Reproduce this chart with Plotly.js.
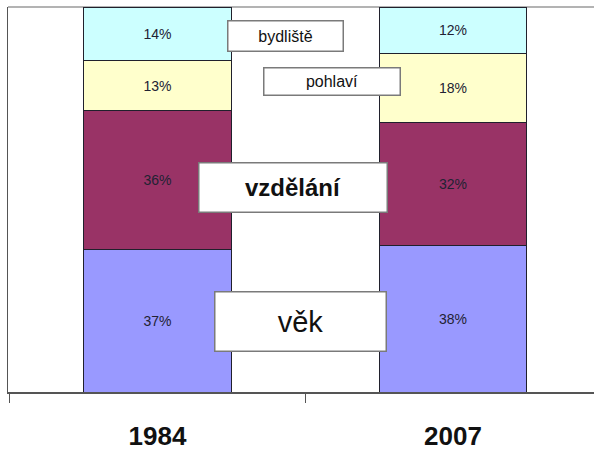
<!DOCTYPE html>
<html>
<head>
<meta charset="utf-8">
<script src="https://cdn.plot.ly/plotly-3.0.1.min.js"></script>
<style>html,body{margin:0;padding:0;background:#fff;}#chart{width:594px;height:452px;}</style>
</head>
<body>
<div id="chart"></div>
<script>
// Data
const years = ["1984", "2007"];
const seriesNames = ["věk", "vzdělání", "pohlaví", "bydliště"];
const vek = [37, 38];
const vzdelani = [36, 32];
const pohlavi = [13, 18];
const bydliste = [14, 12];
const seriesValues = [vek, vzdelani, pohlavi, bydliste];
const seriesColors = ["#9999FF", "#993366", "#FFFFCC", "#CCFFFF"];

const FONT = "Arial, 'Liberation Sans', sans-serif";

const traces = seriesNames.map((name, i) => ({
  type: "bar",
  name: name,
  x: years,
  y: seriesValues[i],
  width: 0.5,
  marker: { color: seriesColors[i], line: { color: "#20202c", width: 1 } },
  text: seriesValues[i].map(v => v + "%"),
  textposition: "inside",
  insidetextanchor: "middle",
  textangle: 0,
  textfont: { family: FONT, size: 14, color: "#222233" },
  hoverinfo: "skip"
}));

// Label boxes (paper coordinates, plot area 8..594 x 7..392)
function px2x(px) { return (px - 8) / 586; }
function py2y(py) { return (392 - py) / 385; }
function box(text, x0, x1, y0, y1, size, weight) {
  return {
    xref: "paper", yref: "paper",
    x: px2x((x0 + x1) / 2), y: py2y((y0 + y1) / 2),
    xanchor: "center", yanchor: "middle",
    text: text, showarrow: false,
    width: x1 - x0 - 2, height: y1 - y0 - 2,
    bgcolor: "#ffffff", bordercolor: "#7a7a7a", borderwidth: 1.5, borderpad: 0,
    font: { family: FONT, size: size, color: "#111111", weight: weight },
    align: "center", valign: "middle"
  };
}

const annotations = [
  box(seriesNames[3], 227, 343, 21, 52, 16, "normal"),
  box(seriesNames[2], 263, 400, 68, 96, 16, "normal"),
  box(seriesNames[1], 198, 387, 162, 212, 24, "bold"),
  box(seriesNames[0], 214, 386, 291, 351, 29, "normal")
];

const layout = {
  width: 594, height: 452,
  margin: { l: 8, r: 0, t: 7, b: 60, pad: 0 },
  paper_bgcolor: "#ffffff", plot_bgcolor: "#ffffff",
  barmode: "stack",
  showlegend: false,
  xaxis: {
    type: "category",
    range: [-0.506, 1.477],
    showline: true, linecolor: "#555555", linewidth: 1.5,
    ticks: "outside", tickson: "boundaries", ticklen: 9, tickcolor: "#555555", tickwidth: 1,
    tickfont: { family: FONT, size: 26, color: "#111111", weight: "bold" },
    ticklabelstandoff: 20,
    showgrid: false, zeroline: false, fixedrange: true
  },
  yaxis: {
    range: [0, 100],
    showline: true, linecolor: "#555555", linewidth: 1.5,
    showticklabels: false, ticks: "", showgrid: false, zeroline: false, fixedrange: true
  },
  shapes: [
    { type: "line", xref: "paper", yref: "paper", x0: 0, x1: 1, y0: 1, y1: 1,
      line: { color: "#9a9a9a", width: 1.5 }, layer: "below" }
  ],
  annotations: annotations
};

Plotly.newPlot("chart", traces, layout, { staticPlot: true, displayModeBar: false });
</script>
</body>
</html>
